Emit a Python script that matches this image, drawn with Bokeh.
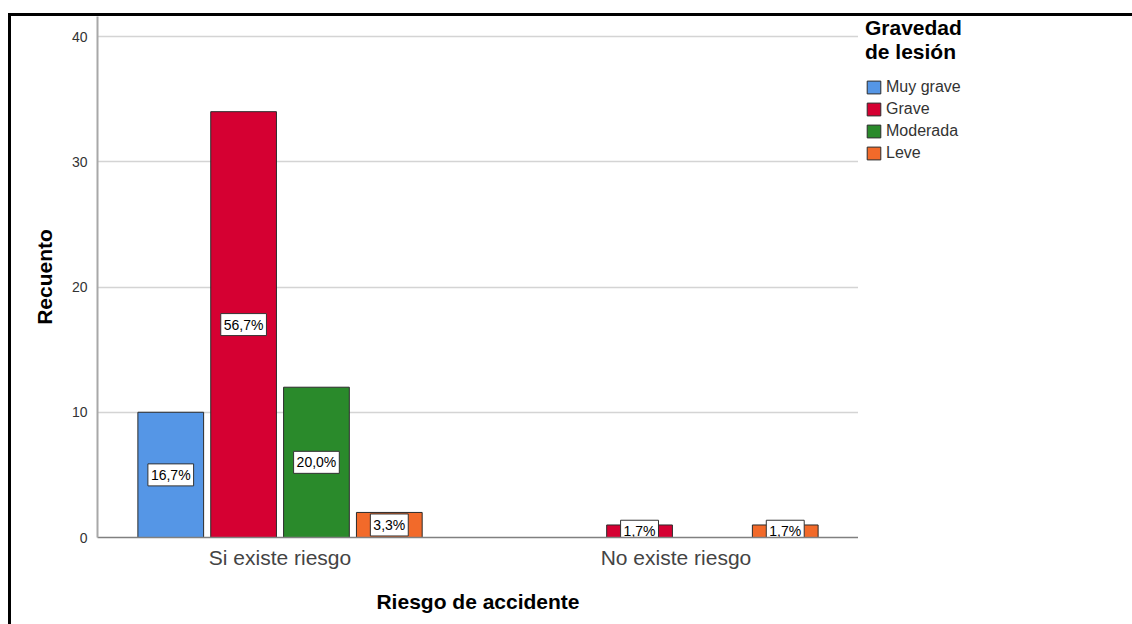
from bokeh.plotting import figure
from bokeh.layouts import row
from bokeh.models import (ColumnDataSource, FactorRange, Range1d, Legend, LegendItem,
                          FixedTicker)
from bokeh.transform import dodge
from bokeh.embed import file_html
from bokeh.resources import INLINE
from bokeh.core.properties import value

# ---- data ----
categories = ["Si existe riesgo", "No existe riesgo"]
severities = ["Muy grave", "Grave", "Moderada", "Leve"]
muy_grave = [10, 0]
grave = [34, 1]
moderada = [12, 0]
leve = [2, 1]
colors = ["#5596E6", "#D50032", "#2A8A2B", "#F26A2A"]
y_ticks = [0, 10, 20, 30, 40]

series = [muy_grave, grave, moderada, leve]
total = sum(sum(s) for s in series)
offsets = [-0.276, -0.092, 0.092, 0.276]

FONT = "Liberation Sans"

p = figure(width=847, height=608, output_backend="svg", toolbar_location=None,
           x_range=FactorRange(factors=categories, range_padding=-0.039,
                               range_padding_units="absolute"),
           y_range=Range1d(0, 41.6),
           min_border_left=86, min_border_right=0, min_border_top=0,
           min_border_bottom=87)
p.outline_line_color = None
p.background_fill_color = "white"
p.border_fill_color = "white"

# legend panel (separate canvas to the right of the plot area); its renderers
# are hidden, only the legend swatches are seen
lg = figure(width=274, height=608, output_backend="svg", toolbar_location=None,
            x_axis_type=None, y_axis_type=None,
            x_range=FactorRange(factors=categories), y_range=Range1d(0, 41.6),
            min_border_left=7, min_border_right=0, min_border_top=0,
            min_border_bottom=0)
lg.outline_line_color = None
lg.xgrid.grid_line_color = None
lg.ygrid.grid_line_color = None
lg.background_fill_color = "white"
lg.border_fill_color = "white"

items = []
for name, vals, col, off in zip(severities, series, colors, offsets):
    xs = [c for c, v in zip(categories, vals) if v > 0]
    ys = [v for v in vals if v > 0]
    txt = [("%.1f%%" % (100.0 * v / total)).replace(".", ",") for v in ys]
    src = ColumnDataSource(dict(x=xs, top=ys, mid=[v / 2 for v in ys], txt=txt))
    p.vbar(x=dodge("x", off, range=p.x_range), top="top", bottom=0, width=0.166,
           source=src, fill_color=col, line_color="#2b2b2b", line_width=1)
    p.text(x=dodge("x", off, range=p.x_range), y="mid", text="txt", source=src,
           text_align="center", text_baseline="middle",
           text_font=value(FONT), text_font_size="14px", text_color="black",
           background_fill_color="white", border_line_color="#333333",
           border_line_width=1, padding=3)
    r = lg.vbar(x="x", top="top", bottom=0, width=0.166, source=src,
                fill_color=col, line_color="#2b2b2b", line_width=1, visible=False)
    items.append(LegendItem(label=name, renderers=[r]))

# axes
p.xgrid.grid_line_color = None
p.ygrid.grid_line_color = "#d4d4d4"
p.ygrid.grid_line_width = 1.5
p.yaxis.ticker = FixedTicker(ticks=y_ticks)
p.yaxis.axis_line_color = "#a8a8a8"
p.yaxis.axis_line_width = 2
p.yaxis.major_tick_line_color = None
p.yaxis.minor_tick_line_color = None
p.yaxis.major_label_standoff = 4
p.yaxis.major_label_text_font = FONT
p.yaxis.major_label_text_font_size = "14px"
p.yaxis.major_label_text_color = "#333333"
p.yaxis.axis_label = "Recuento"
p.yaxis.axis_label_text_font = FONT
p.yaxis.axis_label_text_font_size = "21px"
p.yaxis.axis_label_text_font_style = "bold"
p.yaxis.axis_label_text_color = "black"
p.yaxis.axis_label_standoff = 13

p.xaxis.axis_line_color = "#808080"
p.xaxis.axis_line_width = 1.5
p.xaxis.major_tick_line_color = None
p.xaxis.minor_tick_line_color = None
p.xaxis.major_label_standoff = 2
p.xaxis.major_label_text_font = FONT
p.xaxis.major_label_text_font_size = "21px"
p.xaxis.major_label_text_color = "#444444"
p.xaxis.axis_label = "Riesgo de accidente"
p.xaxis.axis_label_text_font = FONT
p.xaxis.axis_label_text_font_size = "21px"
p.xaxis.axis_label_text_font_style = "bold"
p.xaxis.axis_label_text_color = "black"
p.xaxis.axis_label_standoff = 18

legend = Legend(items=items, location="top_left")
legend.title = "Gravedad\nde lesión"
legend.title_text_font = FONT
legend.title_text_font_size = "21px"
legend.title_text_font_style = "bold"
legend.title_text_color = "black"
legend.title_text_line_height = 1.0
legend.title_standoff = 13
legend.label_text_font = FONT
legend.label_text_font_size = "16px"
legend.label_text_color = "#333333"
legend.glyph_width = 17
legend.glyph_height = 16
legend.label_standoff = 4
legend.label_height = 19
legend.spacing = 3
legend.margin = 0
legend.padding = 2
legend.border_line_color = None
legend.background_fill_alpha = 0
legend.inactive_fill_alpha = 0
lg.add_layout(legend)

layout = row(p, lg, spacing=0)
layout.styles = {"border-top": "3px solid black", "border-left": "3px solid black",
                 "margin-left": "8px", "margin-top": "13px"}

open("out.html", "w").write(file_html(layout, INLINE))
